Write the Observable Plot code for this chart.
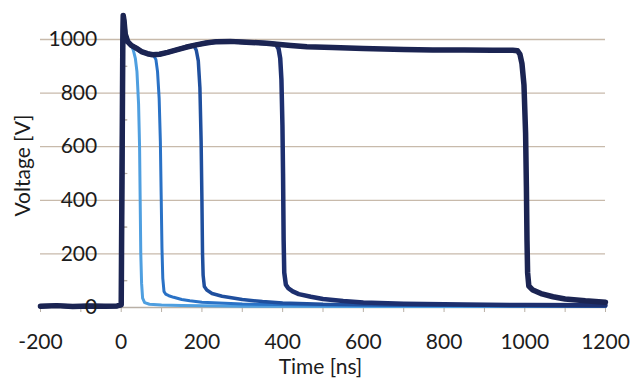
<!DOCTYPE html>
<html>
<head>
<meta charset="utf-8">
<script src="https://cdn.jsdelivr.net/npm/d3@7"></script>
<script src="https://cdn.jsdelivr.net/npm/@observablehq/plot@0.6"></script>
<style>
  html, body { margin: 0; padding: 0; background: #fff; }
</style>
</head>
<body>
<div id="chart"></div>
<script>
// ---- data ----
const xTickLabels = [-200, 0, 200, 400, 600, 800, 1000, 1200];
const xMinorTicks = [-200, -100, 0, 100, 200, 300, 400, 500, 600, 700, 800, 900, 1000, 1100, 1200];
const yTickLabels = [0, 200, 400, 600, 800, 1000];
const yGridLines = [200, 400, 600, 800, 1000];
const yMinorTicks = [100, 300, 500, 700, 900];

// shared baseline + plateau (ns, V)
const plateauT = [-200, -160, -120, -80, -40, -10, 0, 2, 4, 5, 7, 10, 16, 25, 37, 50, 65, 78, 95, 115, 137, 160, 186, 210, 236, 270, 310, 360, 420, 460, 524, 600, 700, 772, 850, 920, 970];
const plateauV = [5, 7, 4, 6, 5, 6, 10, 500, 1000, 1090, 1070, 1020, 992, 978, 968, 955, 947, 943, 945, 952, 961, 971, 980, 987, 992, 993, 990, 986, 978, 973, 970, 966, 963, 961, 961, 960, 960];

// falling edge + tail for each pulse length
const fall50T = [30, 35, 39, 43, 45.5, 47, 48.5, 50.5, 53, 58, 70, 100, 150, 300, 600, 900, 1200];
const fall50V = [960, 930, 880, 760, 600, 400, 200, 90, 35, 18, 12, 9, 7, 5, 4, 4, 4];
const fall100T = [80, 86, 90, 94, 97, 99, 101, 103, 106, 110, 118, 130, 150, 170, 200, 300, 500, 800, 1200];
const fall100V = [942, 925, 880, 780, 620, 420, 220, 110, 60, 50, 44, 38, 30, 25, 20, 13, 9, 7, 6];
const fall200T = [180, 186, 191, 195, 198, 200, 201.5, 203, 206, 212, 225, 250, 300, 350, 400, 500, 700, 1000, 1200];
const fall200V = [978, 960, 920, 820, 620, 400, 200, 120, 78, 65, 52, 42, 30, 22, 17, 12, 9, 7, 6];
const fall400T = [384, 390, 394, 397, 399.5, 401, 402.5, 404, 408, 414, 425, 440, 470, 500, 550, 600, 700, 850, 1000, 1200];
const fall400V = [982, 965, 930, 850, 680, 500, 250, 130, 85, 72, 60, 50, 40, 32, 24, 19, 14, 11, 9, 8];
const fall1000T = [982, 988, 993, 998, 1002, 1004, 1005.5, 1007, 1010, 1020, 1040, 1070, 1100, 1150, 1200];
const fall1000V = [958, 945, 910, 830, 650, 450, 250, 130, 80, 65, 52, 40, 32, 25, 20];

const seriesNames = ["50 ns", "100 ns", "200 ns", "400 ns", "1000 ns"];
const seriesColors = ["#4f9fe0", "#2a72c6", "#1f4f9e", "#1d2f6e", "#1b2452"];
const seriesWidths = [3, 3, 3.5, 4.5, 5.5];
const fallsT = [fall50T, fall100T, fall200T, fall400T, fall1000T];
const fallsV = [fall50V, fall100V, fall200V, fall400V, fall1000V];

// build a row table per series: plateau up to the fall, then the fall
function buildSeries(i) {
  const ft = fallsT[i], fv = fallsV[i];
  const rows = [];
  plateauT.forEach((t, j) => { if (t < ft[0]) rows.push({t, v: plateauV[j], s: seriesNames[i]}); });
  ft.forEach((t, j) => rows.push({t, v: fv[j], s: seriesNames[i]}));
  return rows;
}
const allSeries = seriesNames.map((_, i) => buildSeries(i));

const xMin = d3.min(xTickLabels), xMax = d3.max(xTickLabels);
const yMin = d3.min(yTickLabels), yMax = d3.max(yTickLabels);
const gridColor = "#c8baab";
const axisColor = "#b9b0a6";
const textColor = "#1c1c1c";

const lineMarks = allSeries.map((rows, i) =>
  Plot.line(rows, {x: "t", y: "v", stroke: seriesColors[i], strokeWidth: seriesWidths[i], strokeLinejoin: "round", strokeLinecap: "round"})
);

const chart = Plot.plot({
  width: 635,
  height: 378,
  marginLeft: 40,
  marginRight: 30,
  marginTop: 39,
  marginBottom: 71,
  x: {type: "linear", domain: [xMin, xMax], axis: null, label: null},
  y: {type: "linear", domain: [yMin, yMax], axis: null, label: null},
  style: {fontFamily: "Lato, 'Open Sans', sans-serif", fontSize: "21px", color: textColor, background: "#fff"},
  marks: [
    Plot.ruleY(yGridLines, {x1: xMin, x2: xMax, stroke: gridColor, strokeWidth: 1.3}),
    Plot.ruleY([yMin], {x1: xMin, x2: xMax, stroke: axisColor, strokeWidth: 1.3}),
    Plot.axisX({ticks: xMinorTicks, tickSize: 5, tickFormat: () => "", stroke: axisColor, anchor: "bottom", label: null}),
    Plot.ruleX([0], {y1: yMin, y2: yMax, stroke: axisColor, strokeWidth: 1.3}),
    Plot.vector(yMinorTicks, {x: 0, y: d => d, rotate: 90, length: 6, anchor: "start", shape: "spike", r: 0.6, fill: axisColor, stroke: axisColor, strokeWidth: 1}),
    ...lineMarks,
    Plot.text(yTickLabels, {x: 0, y: d => d, text: d => String(d), dx: -24, textAnchor: "end", fontSize: 21, fill: textColor}),
    Plot.text(xTickLabels, {x: d => d, y: yMin, text: d => String(d), dy: 35, fontSize: 21, fill: textColor}),
    Plot.text(["Time [ns]"], {frameAnchor: "bottom", lineAnchor: "middle", textAnchor: "middle", dy: 60, dx: -2.5, fontSize: 21, fill: textColor}),
    Plot.text(["Voltage [V]"], {frameAnchor: "left", rotate: -90, textAnchor: "middle", lineAnchor: "middle", dx: -17, dy: -8, fontSize: 21, fill: textColor})
  ]
});

document.getElementById("chart").appendChild(chart);
</script>
</body>
</html>
